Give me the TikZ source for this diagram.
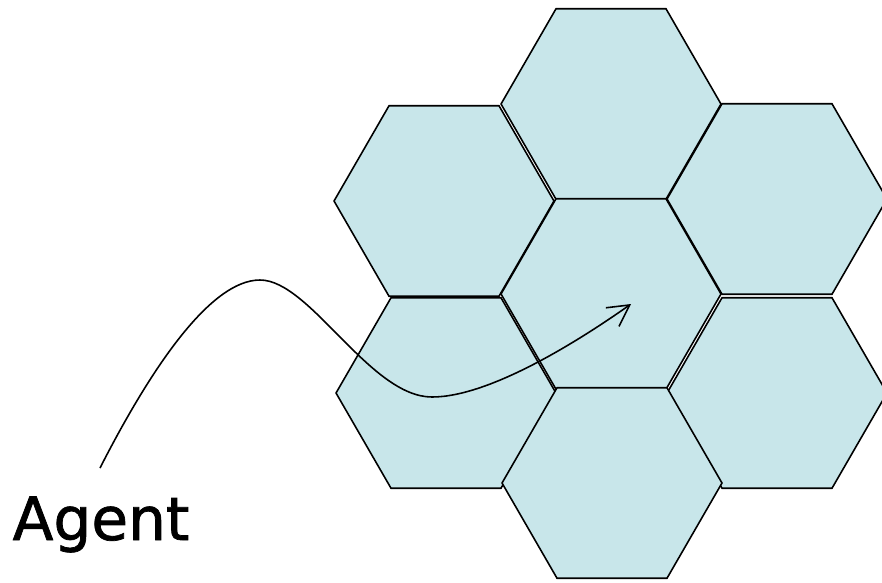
\documentclass[tikz,border=0pt]{standalone}
\usepackage{fontspec}
\newfontfamily\agentfont[FakeBold=1.2]{DejaVu Sans}
\usetikzlibrary{shapes.geometric,arrows.meta}
\definecolor{cellblue}{RGB}{200,230,234}
\begin{document}
\begin{tikzpicture}[x=0.02cm, y=-0.02cm,
  cell/.style={regular polygon, regular polygon sides=6, minimum size=4.4cm,
    inner sep=0pt, outer sep=0pt, draw=black, line width=0.9pt, fill=cellblue}]
\useasboundingbox (0,0) rectangle (882,582);
% cells
\node[cell] (upleft) at (444,201) {};
\node[cell] (top) at (611,104) {};
\node[cell] (upright) at (777,199) {};
\node[cell] (downleft) at (446,393) {};
\node[cell] (downright) at (777,393) {};
\node[cell] (mid) at (611,294) {};
\node[cell] (bottom) at (612,483) {};
% agent and its path
\node[font=\agentfont\fontsize{34}{40}\selectfont, anchor=base] (agent) at (101,540) {Agent};
\coordinate (start) at (100,468);
\coordinate (goal) at (631,304);
\draw[line width=0.9pt, -{Straight Barb[length=12pt,width=13pt]}] (start)
  .. controls (150,370) and (210,280) .. (260,280)
  .. controls (310,280) and (370,397) .. (432,397)
  .. controls (490,397) and (580,340) .. (goal);
\end{tikzpicture}
\end{document}
